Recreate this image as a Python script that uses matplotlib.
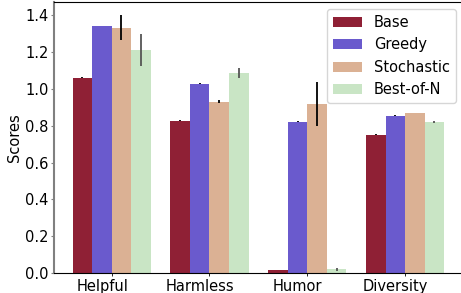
import matplotlib
matplotlib.use("Agg")
import matplotlib.pyplot as plt
import numpy as np

categories = ["Helpful", "Harmless", "Humor", "Diversity"]
methods = ["Base", "Greedy", "Stochastic", "Best-of-N"]

base = [1.061, 0.827, 0.016, 0.751]
greedy = [1.342, 1.028, 0.822, 0.854]
stochastic = [1.333, 0.930, 0.919, 0.870]
best_of_n = [1.212, 1.088, 0.020, 0.822]

base_err = [0.002, 0.002, 0.002, 0.002]
greedy_err = [0.002, 0.002, 0.002, 0.002]
stochastic_err = [0.069, 0.008, 0.119, 0.002]
best_of_n_err = [0.089, 0.028, 0.008, 0.006]

colors = ["#8f2035", "#6a5acd", "#dbb194", "#c9e5c5"]
ecolors = ["black", "black", "black", "#555555"]

plt.rcParams['font.size'] = 10.5

fig = plt.figure(figsize=(4.61, 2.93), dpi=100)
ax = fig.add_axes([0.117, 0.068, 0.887, 0.925])

x = np.arange(len(categories))
w = 0.2
series = [base, greedy, stochastic, best_of_n]
errs = [base_err, greedy_err, stochastic_err, best_of_n_err]
for i, (vals, e) in enumerate(zip(series, errs)):
    ax.bar(x + (i - 1.5) * w, vals, w, yerr=e, color=colors[i], label=methods[i],
           error_kw=dict(ecolor=ecolors[i], elinewidth=1.3, capsize=0))

# tick marks at group centres, labels drawn a little to the left (as in the original)
ax.set_xticks(x, minor=True)
ax.set_xticks(x - 0.097)
ax.set_xticklabels(categories)
ax.set_ylabel("Scores", labelpad=2)
ax.spines['right'].set_visible(False)
ax.spines['left'].set_color('#808080')
ax.spines['left'].set_linewidth(1.5)
ax.tick_params(axis='y', color='#808080', length=2, pad=2)
ax.tick_params(axis='x', which='major', length=0, pad=4)
ax.tick_params(axis='x', which='minor', length=2)
ax.legend(loc='upper right', fontsize=10.5)

fig.savefig("out.png", dpi=100)
